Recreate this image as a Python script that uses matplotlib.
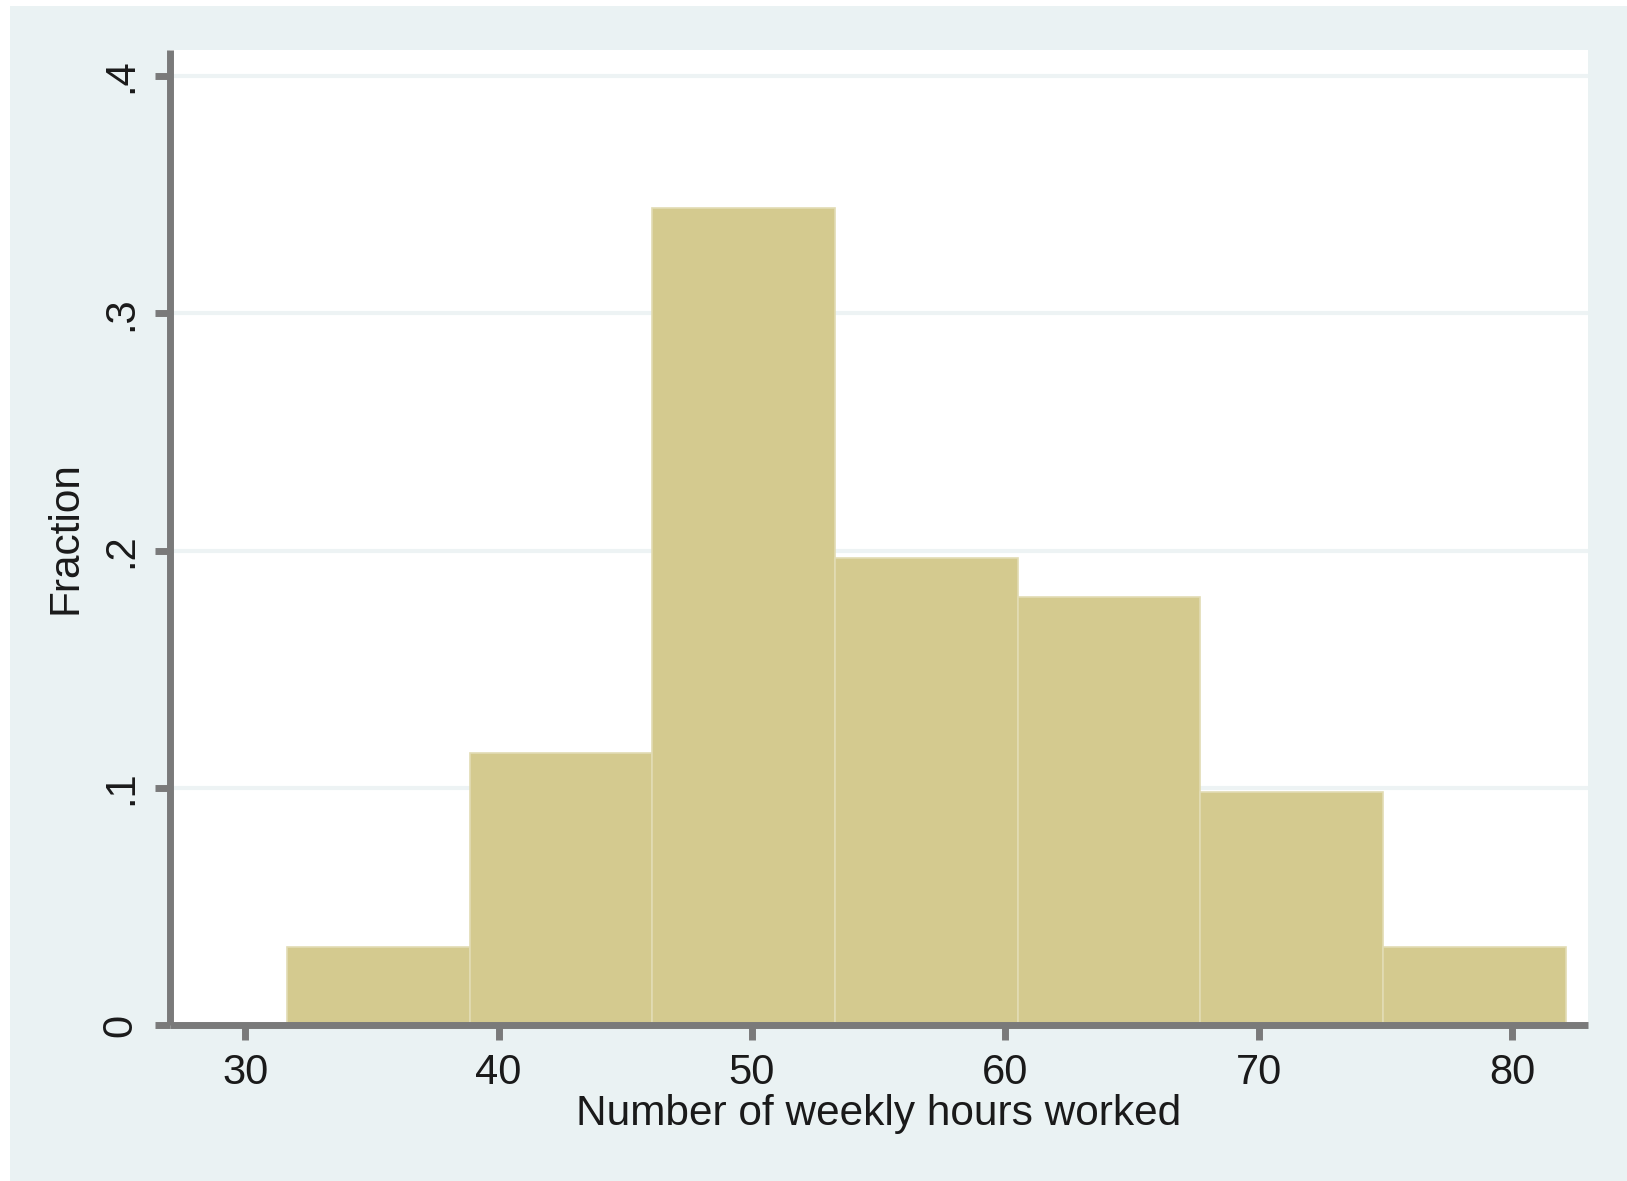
import matplotlib.pyplot as plt
from matplotlib.patches import Rectangle

# histogram of weekly hours (bin edges and fraction per bin)
bin_edges = [31.65, 38.86, 46.07, 53.28, 60.49, 67.70, 74.91, 82.12]
fractions = [0.0328, 0.1148, 0.3443, 0.1967, 0.1803, 0.0984, 0.0328]
x_ticks = [30, 40, 50, 60, 70, 80]
y_ticks = [0, 0.1, 0.2, 0.3, 0.4]
y_tick_labels = ['0', '.1', '.2', '.3', '.4']

bg = '#EAF2F3'
bar_color = '#D4CA8F'
axis_color = '#7A7A7A'
text_color = '#1A1A1A'

plt.rcParams['font.family'] = ['Liberation Sans', 'DejaVu Sans']

fig = plt.figure(figsize=(16.27, 11.81), dpi=100, facecolor='white')
fig.patches.append(Rectangle((10 / 1627, 0), 1 - 10 / 1627, 1 - 6 / 1181,
                             transform=fig.transFigure, facecolor=bg,
                             edgecolor='none', zorder=-10))

ax = fig.add_axes([170 / 1627, 1 - 1025 / 1181, 1418 / 1627, 975 / 1181])
ax.set_facecolor('white')

widths = [b - a for a, b in zip(bin_edges[:-1], bin_edges[1:])]
ax.bar(bin_edges[:-1], fractions, width=widths, align='edge', color=bar_color,
       edgecolor='#E2DCB4', linewidth=1.2, zorder=2)

for y in y_ticks[1:]:
    ax.axhline(y, color='#EDF3F4', linewidth=3, zorder=1)

ax.set_xlim(27.03, 83.0)
ax.set_ylim(0, 0.411)

ax.set_xticks(x_ticks)
ax.set_yticks(y_ticks)
ax.set_yticklabels(y_tick_labels, rotation=90, va='center')

for s in ['top', 'right']:
    ax.spines[s].set_visible(False)
for s in ['left', 'bottom']:
    ax.spines[s].set_color(axis_color)
    ax.spines[s].set_linewidth(5)
    ax.spines[s].set_capstyle('butt')
    ax.spines[s].set_zorder(3)

ax.tick_params(axis='both', direction='out', length=11, width=5,
               color=axis_color, labelsize=30, labelcolor=text_color)
ax.tick_params(axis='x', pad=9)
ax.tick_params(axis='y', pad=10)

ax.set_xlabel('Number of weekly hours worked', fontsize=30.5, color=text_color,
              labelpad=1)
ax.set_ylabel('Fraction', fontsize=30.5, color=text_color, labelpad=11)

fig.savefig('out.png', dpi=100, facecolor=fig.get_facecolor())
